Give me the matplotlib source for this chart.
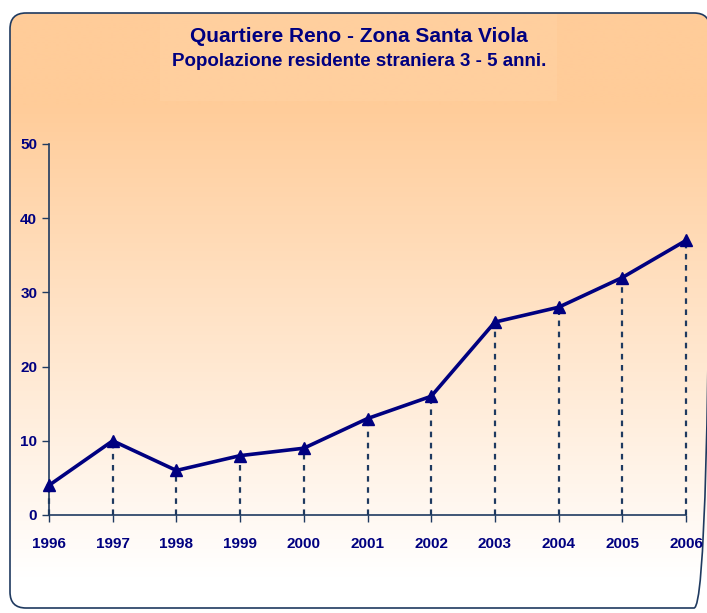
import numpy as np
import matplotlib as mpl
mpl.use('Agg')
import matplotlib.pyplot as plt
from matplotlib.patches import FancyBboxPatch, Rectangle
from matplotlib.colors import LinearSegmentedColormap

# data
years = [1996, 1997, 1998, 1999, 2000, 2001, 2002, 2003, 2004, 2005, 2006]
values = [4, 10, 6, 8, 9, 13, 16, 26, 28, 32, 37]
yticks = [0, 10, 20, 30, 40, 50]

title1 = "Quartiere Reno - Zona Santa Viola"
title2 = "Popolazione residente straniera 3 - 5 anni."

navy = "#000080"
dash_col = "#1F3A60"
txt_col = "#000080"

plt.rcParams['font.family'] = ['Liberation Sans', 'DejaVu Sans']

W, H = 707, 613
fig = plt.figure(figsize=(W/100, H/100), dpi=100)

# background: rounded box with peach->white gradient
bg = fig.add_axes([0, 0, 1, 1])
bg.set_xlim(0, W)
bg.set_ylim(H, 0)
bg.axis('off')
box = FancyBboxPatch((10, 13), 700, 595, boxstyle="round,pad=0,rounding_size=16",
                     facecolor='none', edgecolor='#1F3A60', linewidth=1.2, zorder=3)
bg.add_patch(box)
grad = np.ones((256, 1))
yy = np.linspace(0, 1, 256)
grad[:, 0] = np.clip((yy - 0.15) / 0.8, 0, 1)
cmap = LinearSegmentedColormap.from_list("peach", ["#FFCC99", "#FFFFFF"])
im = bg.imshow(grad, extent=[10, 710, 608, 13], aspect='auto', cmap=cmap,
               vmin=0, vmax=1, zorder=1, interpolation='bilinear')
im.set_clip_path(box)
bg.add_patch(Rectangle((160, 13), 397, 88, facecolor='#FFD5AA', edgecolor='none',
                       alpha=0.35, zorder=2))

bg.text(359, 37, title1, ha='center', va='center', fontsize=15, fontweight='bold',
        color=txt_col, zorder=4)
bg.text(359, 62, title2, ha='center', va='center', fontsize=13.5, fontweight='bold',
        color=txt_col, zorder=4)

# main plot
ax = fig.add_axes([49/W, 1 - 515/H, (686-49)/W, (515-144)/H])
ax.patch.set_visible(False)
ax.set_xlim(years[0], years[-1])
ax.set_ylim(0, 50)

for x, y in zip(years, values):
    ax.plot([x, x], [0, y], linestyle=(0, (2.5, 2.5)), color=dash_col, linewidth=1.6,
            zorder=2, clip_on=False)
ax.plot(years, values, color=navy, linewidth=2.6, marker='^', markersize=8,
        markerfacecolor=navy, markeredgecolor=navy, zorder=3, clip_on=False)

ax.set_xticks(years)
ax.set_yticks(yticks)
ax.tick_params(axis='both', direction='out', length=5, width=1, colors='#1F3A60',
               labelcolor=txt_col, labelsize=11)
ax.tick_params(axis='x', pad=11)
for lab in ax.get_xticklabels() + ax.get_yticklabels():
    lab.set_fontweight('bold')
for s in ['top', 'right']:
    ax.spines[s].set_visible(False)
for s in ['left', 'bottom']:
    ax.spines[s].set_color('#1F3A60')
    ax.spines[s].set_linewidth(1.2)

fig.savefig("out.png", dpi=100)
